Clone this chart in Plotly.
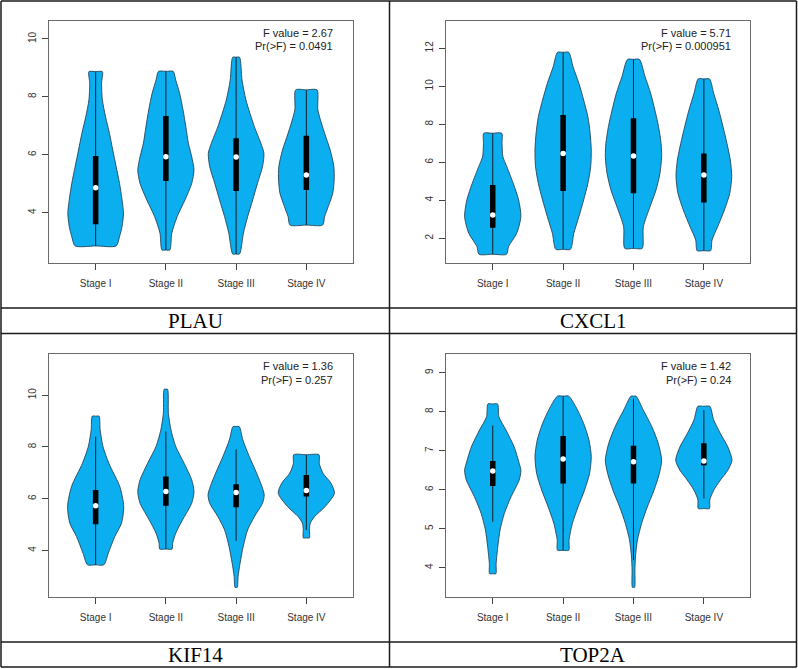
import plotly.graph_objects as go

W, H = 798, 669

STAGES = ["Stage I", "Stage II", "Stage III", "Stage IV"]
GENES = ["PLAU", "CXCL1", "KIF14", "TOP2A"]
F_VALUES = ["2.67", "5.71", "1.36", "1.42"]
P_VALUES = ["0.0491", "0.000951", "0.257", "0.24"]
Y_TICKS = [[4, 6, 8, 10], [2, 4, 6, 8, 10, 12], [4, 6, 8, 10], [4, 5, 6, 7, 8, 9]]
Y_RANGES = [[2.26, 10.62], [0.70, 13.44], [2.22, 11.59], [3.26, 9.48]]

# ---- violin density profiles (y level, relative width) ----
PLAU_Y = [
    [2.85, 3.17, 3.52, 3.98, 4.44, 5.01, 5.59, 6.16, 6.74, 7.32, 7.89, 8.47, 8.87],
    [2.71, 3.29, 3.86, 4.44, 5.01, 5.47, 5.93, 6.40, 6.97, 7.55, 8.12, 8.58, 8.88],
    [2.57, 3.29, 3.86, 4.44, 5.01, 5.59, 6.05, 6.40, 6.97, 7.89, 8.58, 9.37],
    [3.57, 3.86, 4.21, 4.67, 5.13, 5.59, 6.16, 6.74, 7.55, 8.24],
]
PLAU_D = [
    [0.73, 0.85, 0.94, 0.99, 0.94, 0.85, 0.73, 0.61, 0.49, 0.35, 0.24, 0.21, 0.24],
    [0.14, 0.21, 0.40, 0.68, 0.92, 1.00, 0.92, 0.80, 0.71, 0.61, 0.49, 0.35, 0.26],
    [0.12, 0.26, 0.41, 0.59, 0.76, 0.94, 0.99, 0.88, 0.65, 0.35, 0.21, 0.12],
    [0.58, 0.65, 0.78, 0.94, 0.99, 0.98, 0.85, 0.65, 0.41, 0.38],
]
CXCL1_Y = [
    [1.16, 1.56, 2.26, 3.14, 4.02, 4.89, 5.77, 6.30, 7.00, 7.53],
    [1.42, 2.26, 3.14, 4.02, 4.89, 5.77, 6.65, 7.53, 8.40, 9.28, 10.16, 11.04, 11.79],
    [1.47, 2.61, 3.67, 4.54, 5.42, 6.30, 7.00, 7.88, 8.75, 9.63, 10.51, 11.42],
    [1.35, 1.91, 2.61, 3.49, 4.37, 5.25, 6.12, 7.00, 7.88, 8.75, 9.63, 10.39],
]
CXCL1_D = [
    [0.49, 0.56, 0.85, 1.00, 0.92, 0.73, 0.50, 0.36, 0.33, 0.32],
    [0.26, 0.38, 0.56, 0.73, 0.88, 0.98, 1.00, 0.96, 0.88, 0.73, 0.56, 0.35, 0.20],
    [0.31, 0.35, 0.59, 0.80, 0.94, 1.00, 0.98, 0.89, 0.76, 0.61, 0.41, 0.21],
    [0.24, 0.29, 0.49, 0.73, 0.92, 0.99, 0.94, 0.82, 0.68, 0.53, 0.35, 0.20],
]
KIF14_Y = [
    [3.45, 3.90, 4.54, 5.06, 5.70, 6.47, 7.37, 8.02, 8.66, 9.19],
    [4.06, 4.28, 4.67, 5.18, 5.83, 6.28, 6.73, 7.37, 8.02, 8.66, 9.30, 10.23],
    [2.58, 3.00, 3.51, 4.15, 4.80, 5.31, 5.83, 6.15, 6.47, 6.99, 7.63, 8.27, 8.79],
    [4.49, 4.80, 5.06, 5.31, 5.70, 6.21, 6.60, 6.99, 7.37, 7.70],
]
KIF14_D = [
    [0.29, 0.45, 0.68, 0.92, 1.00, 0.86, 0.47, 0.26, 0.16, 0.12],
    [0.22, 0.24, 0.35, 0.59, 0.92, 1.00, 0.92, 0.65, 0.35, 0.18, 0.09, 0.06],
    [0.04, 0.07, 0.14, 0.25, 0.41, 0.65, 0.94, 1.00, 0.92, 0.73, 0.47, 0.24, 0.11],
    [0.11, 0.11, 0.14, 0.29, 0.67, 1.00, 0.88, 0.59, 0.46, 0.45],
]
TOP2A_Y = [
    [3.85, 4.11, 4.54, 4.97, 5.39, 5.82, 6.25, 6.50, 6.68, 7.10, 7.53, 7.87, 8.20],
    [4.45, 4.71, 5.14, 5.56, 5.99, 6.42, 6.85, 7.27, 7.70, 8.13, 8.40],
    [3.50, 3.94, 4.28, 4.71, 5.14, 5.56, 5.99, 6.42, 6.76, 7.19, 7.62, 8.04, 8.40],
    [5.52, 5.74, 5.99, 6.25, 6.50, 6.76, 7.10, 7.44, 7.79, 8.14],
]
TOP2A_D = [
    [0.11, 0.12, 0.18, 0.26, 0.41, 0.65, 0.94, 1.00, 0.94, 0.76, 0.47, 0.22, 0.17],
    [0.20, 0.21, 0.33, 0.53, 0.76, 0.94, 1.00, 0.92, 0.73, 0.45, 0.20],
    [0.04, 0.05, 0.07, 0.14, 0.29, 0.49, 0.73, 0.92, 1.00, 0.88, 0.65, 0.35, 0.09],
    [0.20, 0.21, 0.35, 0.59, 0.85, 1.00, 0.85, 0.59, 0.35, 0.21],
]

# ---- box statistics per stage: median, Q1, Q3, lower whisker, upper whisker ----
PLAU_MED = [4.86, 5.93, 5.92, 5.30]
PLAU_Q1 = [3.60, 5.09, 4.75, 4.78]
PLAU_Q3 = [5.96, 7.34, 6.57, 6.66]
PLAU_WLO = [2.85, 2.71, 2.57, 3.57]
PLAU_WHI = [8.87, 8.88, 9.37, 8.24]

CXCL1_MED = [3.23, 6.47, 6.33, 5.33]
CXCL1_Q1 = [2.56, 4.49, 4.37, 3.88]
CXCL1_Q3 = [4.81, 8.49, 8.32, 6.47]
CXCL1_WLO = [1.16, 1.42, 1.47, 1.35]
CXCL1_WHI = [7.53, 11.79, 11.42, 10.39]

KIF14_MED = [5.73, 6.28, 6.24, 6.32]
KIF14_Q1 = [5.02, 5.73, 5.67, 6.09]
KIF14_Q3 = [6.34, 6.86, 6.56, 6.92]
KIF14_WLO = [3.45, 4.06, 4.37, 4.80]
KIF14_WHI = [8.40, 8.60, 7.91, 7.70]

TOP2A_MED = [6.48, 6.79, 6.72, 6.74]
TOP2A_Q1 = [6.10, 6.16, 6.16, 6.63]
TOP2A_Q3 = [6.74, 7.38, 7.13, 7.19]
TOP2A_WLO = [5.18, 4.45, 4.20, 5.78]
TOP2A_WHI = [7.65, 8.40, 8.34, 8.04]

PROFILES = [(PLAU_Y, PLAU_D), (CXCL1_Y, CXCL1_D), (KIF14_Y, KIF14_D), (TOP2A_Y, TOP2A_D)]
STATS = [
    (PLAU_MED, PLAU_Q1, PLAU_Q3, PLAU_WLO, PLAU_WHI),
    (CXCL1_MED, CXCL1_Q1, CXCL1_Q3, CXCL1_WLO, CXCL1_WHI),
    (KIF14_MED, KIF14_Q1, KIF14_Q3, KIF14_WLO, KIF14_WHI),
    (TOP2A_MED, TOP2A_Q1, TOP2A_Q3, TOP2A_WLO, TOP2A_WHI),
]

# ---- layout (pixel boxes of the four plot areas) ----
PANELS = [
    (49.3, 352.7, 21.0, 263.0),
    (446.3, 750.3, 21.0, 263.0),
    (49.3, 352.7, 354.0, 596.7),
    (446.3, 750.3, 354.0, 596.7),
]
HALF = 0.4
FILL = "#0BAEEF"
EDGE = "#24465e"


def px(x):
    return x / W


def py(y):
    return 1 - y / H


fig = go.Figure()

for k in range(4):
    xa = "x" if k == 0 else f"x{k+1}"
    ya = "y" if k == 0 else f"y{k+1}"
    ys_all, ds_all = PROFILES[k]
    med, q1, q3, wlo, whi = STATS[k]
    for i in range(4):
        c = i + 1
        ys, ds = ys_all[i], ds_all[i]
        # outline: bottom-centre, up the left side, across the flat top, down the right side
        xs = ([c] + [c - HALF * d for d in ds] + [c] +
              [c + HALF * d for d in ds[::-1]] + [c])
        yy = [ys[0]] + list(ys) + [ys[-1]] + list(ys[::-1]) + [ys[0]]
        fig.add_trace(go.Scatter(
            x=xs, y=yy, mode="lines", fill="toself", fillcolor=FILL,
            line=dict(color=EDGE, width=0.9, shape="spline", smoothing=0.7),
            xaxis=xa, yaxis=ya, hoverinfo="skip", showlegend=False))
        fig.add_trace(go.Scatter(
            x=[c, c], y=[wlo[i], whi[i]], mode="lines",
            line=dict(color="#10202c", width=1),
            xaxis=xa, yaxis=ya, hoverinfo="skip", showlegend=False))
        fig.add_trace(go.Scatter(
            x=[c, c], y=[q1[i], q3[i]], mode="lines",
            line=dict(color="black", width=5.5),
            xaxis=xa, yaxis=ya, hoverinfo="skip", showlegend=False))
        fig.add_trace(go.Scatter(
            x=[c], y=[med[i]], mode="markers",
            marker=dict(color="white", size=5.5, line=dict(width=0)),
            xaxis=xa, yaxis=ya, hoverinfo="skip", showlegend=False))

    x0, x1, y0, y1 = PANELS[k]
    axis_common = dict(showline=True, mirror=True, linecolor="#6a6a6a", linewidth=1,
                       showgrid=False, zeroline=False, ticks="outside", ticklen=6,
                       tickcolor="#444", tickwidth=1,
                       tickfont=dict(family="Liberation Sans, Arial", size=10, color="#333"))
    fig.layout[("xaxis" if k == 0 else f"xaxis{k+1}")] = dict(
        domain=[px(x0), px(x1)], anchor=ya, range=[0.34, 4.66],
        tickvals=[1, 2, 3, 4], ticktext=STAGES, ticklabelstandoff=5, **axis_common)
    fig.layout[("yaxis" if k == 0 else f"yaxis{k+1}")] = dict(
        domain=[py(y1), py(y0)], anchor=xa, range=Y_RANGES[k],
        tickvals=Y_TICKS[k], tickangle=-90, ticklabelstandoff=2, **axis_common)

    # F / p annotations
    rx = x1 - 17.5
    fig.add_annotation(x=px(rx), y=py(y0 + 12), xref="paper", yref="paper",
                       text=f"F value = {F_VALUES[k]}", showarrow=False,
                       xanchor="right", yanchor="middle",
                       font=dict(family="Liberation Sans, Arial", size=11, color="#222"))
    fig.add_annotation(x=px(rx), y=py(y0 + 25.5), xref="paper", yref="paper",
                       text=f"Pr(>F) = {P_VALUES[k]}", showarrow=False,
                       xanchor="right", yanchor="middle",
                       font=dict(family="Liberation Sans, Arial", size=11, color="#222"))

# gene labels in the table cells
LABEL_POS = [(195, 321), (593, 321), (195, 655), (593, 655)]
for k, (lx, ly) in enumerate(LABEL_POS):
    fig.add_annotation(x=px(lx), y=py(ly), xref="paper", yref="paper", text=GENES[k],
                       showarrow=False, xanchor="center", yanchor="middle",
                       font=dict(family="Liberation Serif, Times New Roman", size=21, color="black"))

# table grid lines
LC = "#1a1a1a"
shapes = []
def hline(y, xa=1, xb=796.5):
    shapes.append(dict(type="line", xref="paper", yref="paper", x0=px(xa), x1=px(xb),
                       y0=py(y), y1=py(y), line=dict(color=LC, width=1.5)))
def vline(x, ya=1, yb=667):
    shapes.append(dict(type="line", xref="paper", yref="paper", x0=px(x), x1=px(x),
                       y0=py(ya), y1=py(yb), line=dict(color=LC, width=1.5)))

hline(1)
hline(308)
hline(333.5)
hline(642)
hline(667)
vline(1)
vline(389.5)
vline(796.5)

fig.update_layout(
    width=W, height=H, margin=dict(l=0, r=0, t=0, b=0),
    paper_bgcolor="white", plot_bgcolor="white", shapes=shapes, showlegend=False,
)

fig.write_html(
    "out.html",
    config={"displayModeBar": False},
    post_script="document.body.style.margin='0';document.body.style.overflow='hidden';",
)
